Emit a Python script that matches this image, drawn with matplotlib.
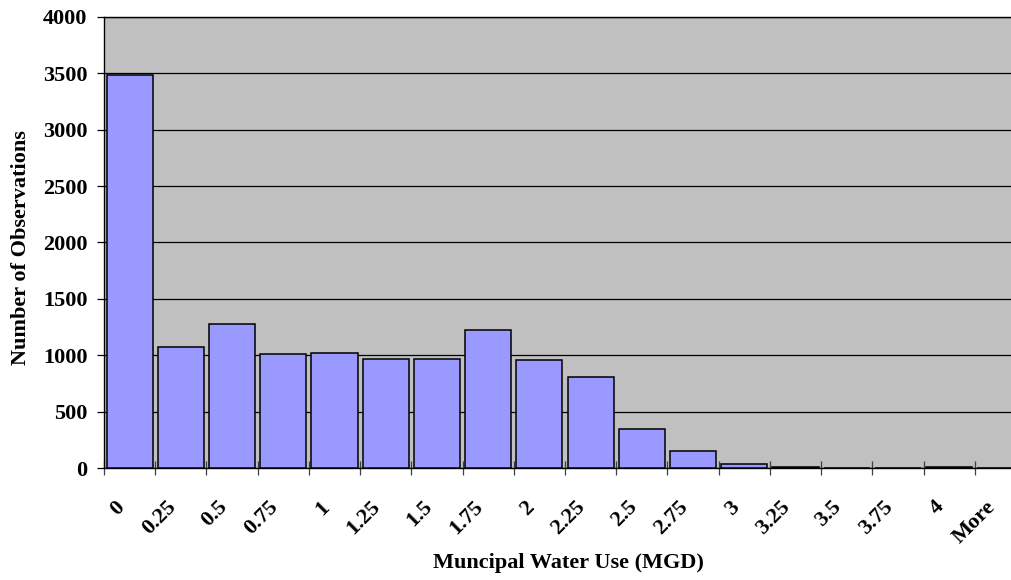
import numpy as np
import matplotlib
matplotlib.use("Agg")
import matplotlib.pyplot as plt
import matplotlib.transforms as mtransforms

# histogram bins and counts
bins = ["0", "0.25", "0.5", "0.75", "1", "1.25", "1.5", "1.75", "2",
        "2.25", "2.5", "2.75", "3", "3.25", "3.5", "3.75", "4", "More"]
counts = [3490, 1070, 1274, 1011, 1023, 968, 969, 1227, 961,
          810, 346, 151, 36, 5, 0, 0, 5, 0]

plt.rcParams['font.family'] = ['Liberation Serif', 'DejaVu Serif']
plt.rcParams['font.weight'] = 'bold'

W, H = 1011, 580
fig = plt.figure(figsize=(W/100, H/100), dpi=100)
# plot area runs past the right edge of the picture, as in the reference
left, right, top, bottom = 104, 1026, 17, 468
ax = fig.add_axes([left/W, 1-bottom/H, (right-left)/W, (bottom-top)/H])
ax.set_facecolor('#C0C0C0')

x = np.arange(len(bins))
ax.bar(x, counts, width=0.9, color='#9999FF', edgecolor='black', linewidth=1.1, zorder=3)

ax.set_xlim(-0.5, len(bins)-0.5)
ax.set_ylim(0, 4000)
ax.set_yticks(np.arange(0, 4001, 500))
ax.grid(axis='y', color='black', linewidth=0.9, zorder=1)
ax.set_axisbelow(True)

# boundary ticks without labels, labels at category centers
ax.set_xticks(np.arange(-0.5, len(bins)-0.5, 1))
ax.set_xticklabels([])
ax.tick_params(axis='x', which='major', direction='inout', length=9.5, width=0.9, color='#404040')
ax.set_xticks(x, minor=True)
ax.set_xticklabels(bins, minor=True, rotation=45, ha='right', va='center',
                   rotation_mode='anchor', fontsize=16, fontweight='bold')
ax.tick_params(axis='x', which='minor', length=0, pad=26)
offset = mtransforms.ScaledTranslation(-8/100, 0, fig.dpi_scale_trans)
for lab in ax.get_xticklabels(minor=True):
    lab.set_transform(lab.get_transform() + offset)

ax.tick_params(axis='y', direction='out', length=5, width=0.9, pad=7, labelsize=16)
for lab in ax.get_yticklabels():
    lab.set_fontweight('bold')

for s in ['left', 'bottom', 'top']:
    ax.spines[s].set_color('black')
    ax.spines[s].set_linewidth(1.0)
ax.spines['right'].set_visible(False)

fig.text(568/W, 1-563/H, "Muncipal Water Use (MGD)", ha='center', va='center',
         fontsize=16, fontweight='bold')
fig.text(21/W, 1-248/H, "Number of Observations", ha='center', va='center',
         rotation=90, fontsize=16, fontweight='bold')

fig.savefig("out.png", dpi=100, facecolor='white')
